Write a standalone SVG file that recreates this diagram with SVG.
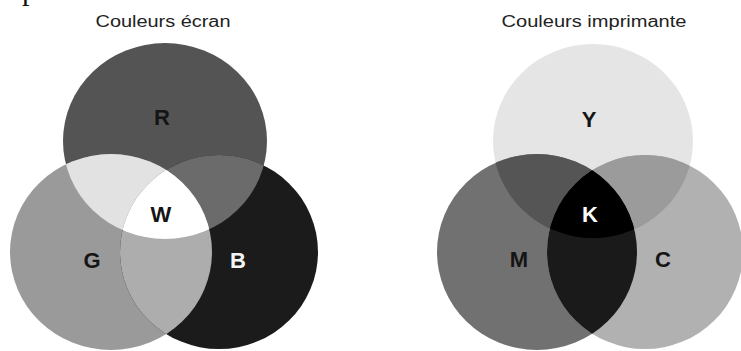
<svg xmlns="http://www.w3.org/2000/svg" width="741" height="351" viewBox="0 0 741 351">
<style>
.title{font-family:"Liberation Sans",Arial,sans-serif;font-size:16px;fill:#222;text-anchor:middle}
.lbl{font-family:"Liberation Sans",Arial,sans-serif;font-size:22px;font-weight:bold;text-anchor:middle}
</style>
<defs>
<clipPath id="cR"><ellipse cx="165" cy="141" rx="102" ry="98"/></clipPath>
<clipPath id="cG"><ellipse cx="111" cy="252" rx="101" ry="98"/></clipPath>
<clipPath id="cY"><ellipse cx="593" cy="141" rx="100" ry="97"/></clipPath>
<clipPath id="cM"><ellipse cx="537" cy="252" rx="100" ry="98"/></clipPath>
</defs>
<rect width="741" height="351" fill="#fff"/>
<text x="22" y="-0.5" font-family="Liberation Serif,serif" font-size="30" fill="#111">p</text>
<text class="title" x="163" y="27" textLength="135" lengthAdjust="spacingAndGlyphs">Couleurs écran</text>
<text class="title" x="594" y="27" textLength="185" lengthAdjust="spacingAndGlyphs">Couleurs imprimante</text>

<g id="screen">
<g id="R"><ellipse cx="165" cy="141" rx="102" ry="98" fill="#545454"/></g>
<g id="G"><ellipse cx="111" cy="252" rx="101" ry="98" fill="#9a9a9a"/></g>
<g id="B"><ellipse cx="219" cy="252" rx="99" ry="97" fill="#1b1b1b"/></g>
<g id="RG" clip-path="url(#cR)"><ellipse cx="111" cy="252" rx="101" ry="98" fill="#e2e2e2"/></g>
<g id="RB" clip-path="url(#cR)"><ellipse cx="219" cy="252" rx="99" ry="97" fill="#6b6b6b"/></g>
<g id="GB" clip-path="url(#cG)"><ellipse cx="219" cy="252" rx="99" ry="97" fill="#adadad"/></g>
<g id="W" clip-path="url(#cR)"><g clip-path="url(#cG)"><ellipse cx="219" cy="252" rx="99" ry="97" fill="#ffffff"/></g></g>
<text class="lbl" x="162" y="125" fill="#151515">R</text>
<text class="lbl" x="161" y="222" fill="#151515">W</text>
<text class="lbl" x="92" y="268" fill="#151515">G</text>
<text class="lbl" x="238" y="268" fill="#f4f4f4">B</text>
</g>

<g id="print">
<g id="Y"><ellipse cx="593" cy="141" rx="100" ry="97" fill="#e5e5e5"/></g>
<g id="M"><ellipse cx="537" cy="252" rx="100" ry="98" fill="#717171"/></g>
<g id="C"><ellipse cx="645" cy="252" rx="98" ry="97" fill="#b1b1b1"/></g>
<g id="YM" clip-path="url(#cY)"><ellipse cx="537" cy="252" rx="100" ry="98" fill="#555555"/></g>
<g id="YC" clip-path="url(#cY)"><ellipse cx="645" cy="252" rx="98" ry="97" fill="#9b9b9b"/></g>
<g id="MC" clip-path="url(#cM)"><ellipse cx="645" cy="252" rx="98" ry="97" fill="#1a1a1a"/></g>
<g id="K" clip-path="url(#cY)"><g clip-path="url(#cM)"><ellipse cx="645" cy="252" rx="98" ry="97" fill="#000000"/></g></g>
<text class="lbl" x="589" y="127" fill="#151515">Y</text>
<text class="lbl" x="590" y="222" fill="#ffffff">K</text>
<text class="lbl" x="519" y="267" fill="#151515">M</text>
<text class="lbl" x="663" y="267" fill="#151515">C</text>
</g>
</svg>
